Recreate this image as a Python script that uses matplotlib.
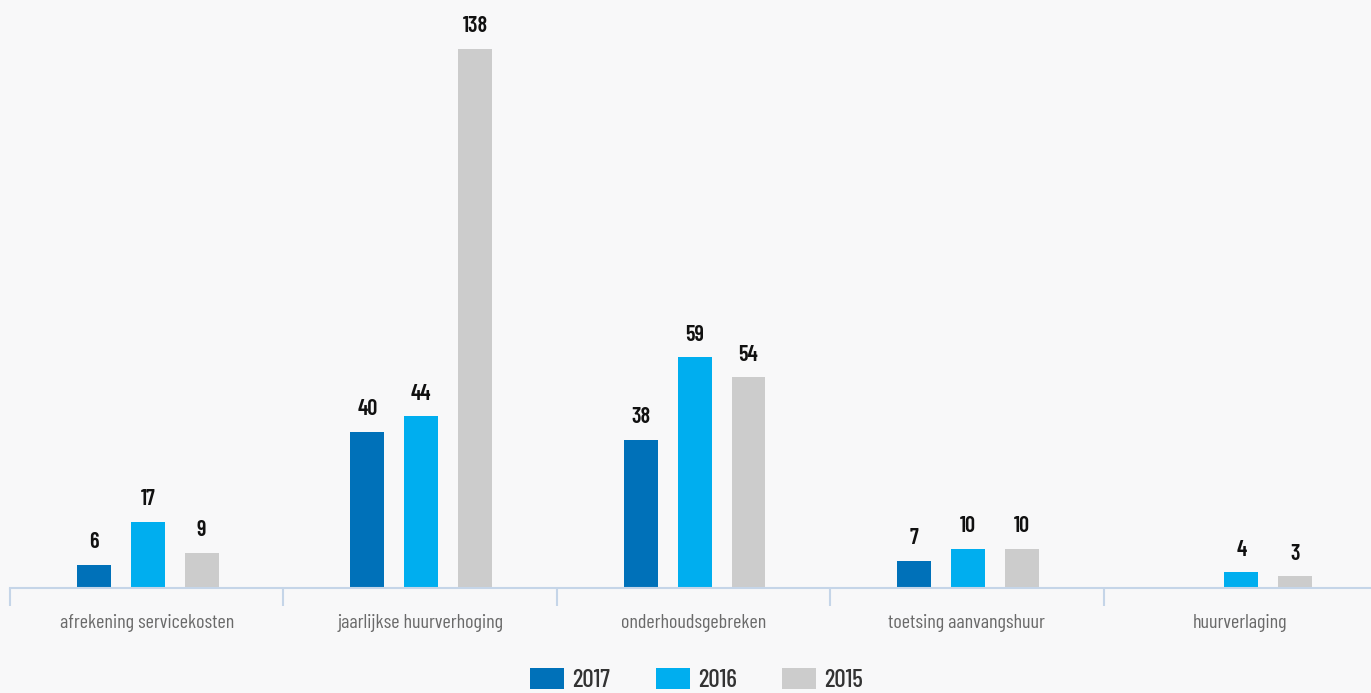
import numpy as np
import matplotlib.pyplot as plt
from matplotlib.patches import Patch

categories = ['afrekening servicekosten', 'jaarlijkse huurverhoging', 'onderhoudsgebreken',
              'toetsing aanvangshuur', 'huurverlaging']
years = ['2017', '2016', '2015']
v2017 = [6, 40, 38, 7, None]
v2016 = [17, 44, 59, 10, 4]
v2015 = [9, 138, 54, 10, 3]
colors = ['#0071b9', '#00aeef', '#cccccc']

plt.rcParams['font.family'] = ['Barlow Condensed', 'DejaVu Sans']

bg = '#f8f8f9'
fig = plt.figure(figsize=(13.71, 6.93), dpi=100, facecolor=bg)
ax = fig.add_axes([10 / 1371, 1 - 588 / 693, 1367 / 1371, 588 / 693])
ax.set_facecolor(bg)

x = np.arange(len(categories))
step = 0.197
w = 0.124
for i, (vals, c) in enumerate(zip([v2017, v2016, v2015], colors)):
    for xi, v in zip(x, vals):
        if v is None:
            continue
        pos = xi + (i - 1) * step + 0.004
        ax.bar(pos, v, width=w, color=c)
        ax.annotate(str(v), (pos, v), xytext=(0, 9), textcoords='offset points',
                    ha='center', va='bottom', fontsize=16, fontweight=600, color='#111111')

ax.set_xlim(-0.5, 4.5)
ax.set_ylim(0, 150.5)
for s in ['left', 'top', 'right']:
    ax.spines[s].set_visible(False)
ax.spines['bottom'].set_color('#c5d5e8')
ax.spines['bottom'].set_linewidth(1.5)
ax.set_yticks([])

ax.set_xticks(np.arange(-0.5, 5, 1))
ax.set_xticklabels([])
ax.tick_params(axis='x', which='major', length=13, width=1.5, color='#c5d5e8', direction='out')
ax.set_xticks(x, minor=True)
ax.set_xticklabels(categories, minor=True, fontsize=14.5, fontweight=400, color='#6a6a6a')
ax.tick_params(axis='x', which='minor', length=0, pad=19)

handles = [Patch(facecolor=c, label=y) for c, y in zip(colors, years)]
leg = fig.legend(handles=handles, loc='center', bbox_to_anchor=(0.508, 13 / 693), ncol=3,
                 frameon=False, handlelength=1.36, handleheight=0.95,
                 columnspacing=1.84, handletextpad=0.32, labelcolor='#333333',
                 prop={'size': 18, 'weight': 500})

fig.savefig('out.png', dpi=100, facecolor=bg)
